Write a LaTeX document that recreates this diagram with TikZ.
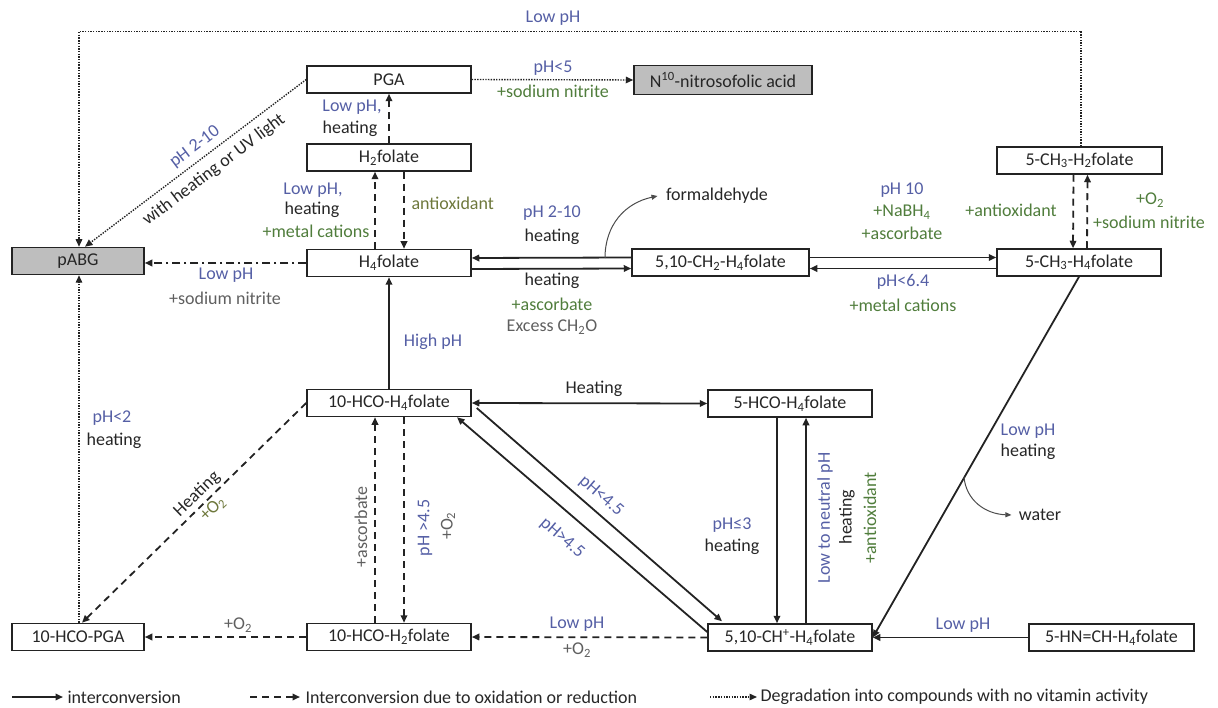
\documentclass[tikz,border=0pt]{standalone}
\usepackage{fontspec}
\setmainfont{Carlito}
\usetikzlibrary{arrows.meta,calc}
\definecolor{lblue}{RGB}{85,95,165}
\definecolor{lgreen}{RGB}{80,125,60}
\definecolor{lolive}{RGB}{110,120,60}
\definecolor{lgray}{RGB}{95,95,95}
\definecolor{boxfill}{RGB}{190,190,190}
\definecolor{edge}{RGB}{35,35,35}
\newcommand\ssb[1]{\textsubscript{#1}}
\newcommand\ssp[1]{\textsuperscript{#1}}
\begin{document}
\begin{tikzpicture}[x=1pt,y=-1pt,
 every node/.style={font=\fontsize{18}{20}\selectfont},
 box/.style={draw=edge, line width=1.5pt, minimum height=27pt, inner sep=0pt, text=black!85},
 graybox/.style={box, fill=boxfill},
 conn/.style={line width=1.8pt, draw=edge, -{Triangle[length=7.5pt,width=6.5pt]}},
 solidc/.style={conn},
 dashc/.style={conn, dash pattern=on 7pt off 5pt},
 dotc/.style={conn, line width=1.4pt, dash pattern=on 1.4pt off 1.3pt},
 dashdotc/.style={conn, dash pattern=on 8pt off 4pt on 2pt off 4pt},
 thincurve/.style={line width=1pt, draw=black!70, -{Triangle[length=6pt,width=5pt]}},
 lb/.style={text=lblue}, lg/.style={text=lgreen}, lo/.style={text=lolive},
 lk/.style={text=black!85}, lgr/.style={text=lgray},
 ]
\useasboundingbox (0,0) rectangle (1218,708);

% boxes
\node[box, minimum width=164pt] (pga) at (389,79.5) {PGA};
\node[graybox, minimum width=178pt, minimum height=29pt] (nitro) at (723,80) {N\ssp{10}-nitrosofolic acid};
\node[box, minimum width=164pt] (h2f) at (389,157.5) {H\ssb{2}folate};
\node[box, minimum width=165pt] (ch3h2) at (1079.5,160.5) {5-CH\ssb{3}-H\ssb{2}folate};
\node[graybox, minimum width=132pt] (pabg) at (78,261) {pABG};
\node[box, minimum width=164pt] (h4f) at (389,263) {H\ssb{4}folate};
\node[box, minimum width=177pt] (ch2) at (720.5,262.5) {5,10-CH\ssb{2}-H\ssb{4}folate};
\node[box, minimum width=164pt] (ch3h4) at (1079,262.5) {5-CH\ssb{3}-H\ssb{4}folate};
\node[box, minimum width=164pt] (f10h4) at (389,403) {10-HCO-H\ssb{4}folate};
\node[box, minimum width=164pt] (f5h4) at (790,403.5) {5-HCO-H\ssb{4}folate};
\node[box, minimum width=132pt] (f10pga) at (78,637) {10-HCO-PGA};
\node[box, minimum width=164pt] (f10h2) at (389,637) {10-HCO-H\ssb{2}folate};
\node[box, minimum width=164pt] (chp) at (790,637.5) {5,10-CH\ssp{+}-H\ssb{4}folate};
\node[box, minimum width=165pt] (hn) at (1111.5,637.5) {5-HN=CH-H\ssb{4}folate};

% connectors
\draw[dotc] ([xshift=1.5pt]ch3h2.north) -- ++(0,-115) -| ([xshift=1pt]pabg.north);
\draw[dotc] (pga.west) -- ([xshift=7pt]pabg.north);
\draw[dotc] (pga.east) -- (nitro.west);
\draw[dashc] (h2f.north) -- (pga.south);
\draw[dashc] ([xshift=-14pt]h4f.north) -- ([xshift=-14pt]h2f.south);
\draw[dashc] ([xshift=15pt]h2f.south) -- ([xshift=15pt]h4f.north);
\draw[dashdotc] (h4f.west) -- (pabg.east |- h4f.west);
\draw[solidc] (f10h4.north) -- (h4f.south);
\draw[solidc] ([yshift=5pt]ch2.west) -- ([yshift=5pt]h4f.east);
\draw[solidc] ([yshift=-6pt]h4f.east) -- ([yshift=-6pt]ch2.west);
\draw[solidc] ([yshift=5pt]ch2.east) -- ([yshift=5pt]ch3h4.west);
\draw[solidc] ([yshift=-6pt]ch3h4.west) -- ([yshift=-6pt]ch2.east);
\draw[dashc] ([xshift=-6pt]ch3h2.south) -- ([xshift=-6pt]ch3h4.north);
\draw[dashc] ([xshift=8pt]ch3h4.north) -- ([xshift=8pt]ch3h2.south);
\draw[solidc] (ch3h4.south) -- (chp.east);
\draw[solidc, {Triangle[length=7.5pt,width=6.5pt]}-{Triangle[length=7.5pt,width=6.5pt]}] (f10h4.east) -- (f5h4.west);
\draw[solidc] ([xshift=-13pt]f5h4.south) -- ([xshift=-13pt]chp.north);
\draw[solidc] ([xshift=16pt]chp.north) -- ([xshift=16pt]f5h4.south);
\draw[solidc] ([shift={(5pt,-5pt)}]f10h4.east) -- ([shift={(-68pt,2pt)}]chp.north);
\draw[solidc] ([yshift=5.5pt]chp.west) -- ([xshift=68pt]f10h4.south);
\draw[dashc] ([xshift=-14pt]f10h2.north) -- ([xshift=-14pt]f10h4.south);
\draw[dashc] ([xshift=15pt]f10h4.south) -- ([xshift=15pt]f10h2.north);
\draw[dashc] (f10h4.west) -- ([xshift=4pt]f10pga.north);
\draw[dotc] ([xshift=1pt]f10pga.north) -- ([xshift=1pt]pabg.south);
\draw[dashc] (f10h2.west) -- (f10pga.east);
\draw[dashc] (chp.west) -- (f10h2.east);
\draw[solidc] (hn.west) -- (chp.east);

% side products
\node[lk] (form) at (717,196) {formaldehyde};
\coordinate (fa) at (605,258);
\draw[thincurve] (fa) .. controls (605,225) and (625,203) .. ([xshift=-5pt]form.west);
\node[lk] (water) at (1040,515) {water};
\coordinate (wa) at (964,477);
\draw[thincurve] (wa) .. controls (966,500) and (985,514) .. ([xshift=-4pt]water.west);

% labels
\node[lb] (t1) at (553,18) {Low pH};
\node[lb] (t2) at (553,68) {pH<5};
\node[lg] (t3) at (553,91) {+sodium nitrite};
\node[lb, rotate=37, inner sep=1pt] (t4) at (195,147) {pH 2-10};
\node[lk, rotate=37, inner sep=1pt] (t5) at (214,170) {with heating or UV light};
\node[lb] (t6) at (352,107) {Low pH,};
\node[lk] (t7) at (350,129) {heating};
\node[lb] (t8) at (313,190) {Low pH,};
\node[lk] (t9) at (312,210) {heating};
\node[lg] (t10) at (316,231) {+metal cations};
\node[lo, anchor=west] (t11) at (408,203) {antioxidant};
\node[lb] (t12) at (226,275) {Low pH};
\node[lgr] (t13) at (225,298) {+sodium nitrite};
\node[lb] (t14) at (552,213) {pH 2-10};
\node[lk] (t15) at (552,237) {heating};
\node[lk] (t16) at (552,281) {heating};
\node[lg] (t17) at (552,304) {+ascorbate};
\node[lgr] (t18) at (552,327) {Excess CH\ssb{2}O};
\node[lb] (t19) at (902,190) {pH 10};
\node[lg] (t20) at (902,212) {+NaBH\ssb{4}};
\node[lg] (t21) at (902,233) {+ascorbate};
\node[lb] (t22) at (903,282) {pH<6.4};
\node[lg] (t23) at (903,305) {+metal cations};
\node[lg] (t24) at (1011,210) {+antioxidant};
\node[lg] (t25) at (1150,200) {+O\ssb{2}};
\node[lg] (t26) at (1149,222) {+sodium nitrite};
\node[lb] (t27) at (433,342) {High pH};
\node[lk] (t28) at (594,389) {Heating};
\node[lb, rotate=-41, inner sep=1pt] (t29) at (601,496) {pH<4.5};
\node[lb, rotate=-41, inner sep=1pt] (t30) at (562,538) {pH>4.5};
\node[lb] (t31) at (732,525) {pH≤3};
\node[lk] (t32) at (732,547) {heating};
\node[lb, rotate=90, inner sep=1pt] (t33) at (825,518) {Low to neutral pH};
\node[lk, rotate=90, inner sep=1pt] (t34) at (847,517) {heating};
\node[lg, rotate=90, inner sep=1pt] (t35) at (870,518) {+antioxidant};
\node[lb] (t36) at (1028,431) {Low pH};
\node[lk] (t37) at (1028,452) {heating};
\node[lgr, rotate=90, inner sep=1pt] (t38) at (361,527) {+ascorbate};
\node[lb, rotate=90, inner sep=1pt] (t39) at (425,528) {pH >4.5};
\node[lgr, rotate=90, inner sep=1pt] (t40) at (448,526) {+O\ssb{2}};
\node[lk, rotate=44, inner sep=1pt] (t41) at (197,494) {Heating};
\node[lo, rotate=44, inner sep=1pt] (t42) at (213,509) {+O\ssb{2}};
\node[lb] (t43) at (112,418) {pH<2};
\node[lk] (t44) at (114,441) {heating};
\node[lgr] (t45) at (238,625) {+O\ssb{2}};
\node[lb] (t46) at (577,624) {Low pH};
\node[lgr] (t47) at (577,650) {+O\ssb{2}};
\node[lb] (t48) at (963,625) {Low pH};

% legend
\coordinate (la1) at (12,697);
\coordinate (la2) at (63,697);
\draw[solidc] (la1) -- (la2);
\node[lk, anchor=west] (lt1) at (64,697) {interconversion};
\coordinate (lb1) at (250,697);
\coordinate (lb2) at (300,697);
\draw[dashc] (lb1) -- (lb2);
\node[lk, anchor=west] (lt2) at (302,697) {Interconversion due to oxidation or reduction};
\coordinate (lc1) at (710,697);
\coordinate (lc2) at (757,697);
\draw[dotc] (lc1) -- (lc2);
\node[lk, anchor=west] (lt3) at (757,697) {Degradation into compounds with no vitamin activity};
\end{tikzpicture}
\end{document}
